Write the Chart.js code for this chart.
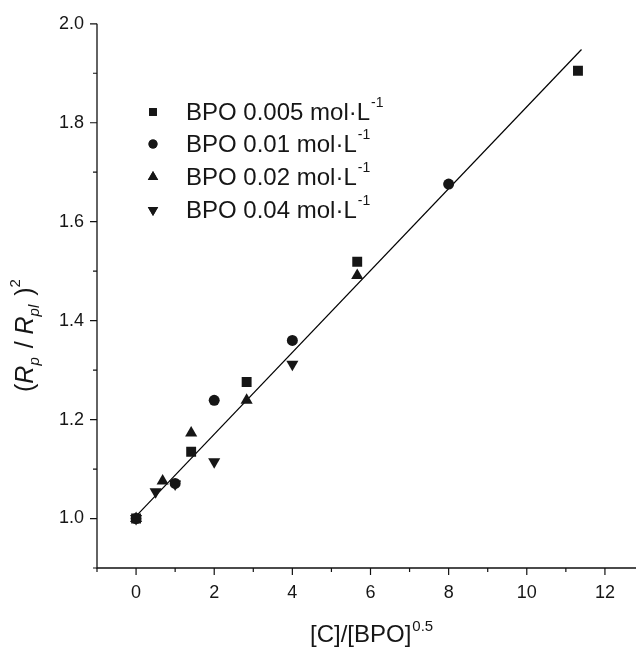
<!DOCTYPE html>
<html>
<head>
<meta charset="utf-8">
<script src="https://cdn.jsdelivr.net/npm/chart.js@4"></script>
<style>
  html, body { margin: 0; padding: 0; background: #fff; overflow: hidden; }
  #wrap { width: 660px; height: 647px; }
</style>
</head>
<body>
<div id="wrap"><canvas id="rateChart" width="660" height="647"></canvas></div>
<script>
// BPO concentrations (mol/L) used for the four series
var bpoConc = ['0.005', '0.01', '0.02', '0.04'];

// [C]/[BPO]^0.5 and (Rp/Rpl)^2 for each series
var x005 = [0, 1.41, 2.83, 5.66, 11.31];
var y005 = [1.0, 1.135, 1.276, 1.519, 1.905];

var x01 = [0, 1, 2, 4, 8];
var y01 = [1.0, 1.071, 1.239, 1.36, 1.676];

var x02 = [0, 0.68, 1.41, 2.83, 5.66];
var y02 = [1.0, 1.076, 1.173, 1.239, 1.491];

var x04 = [0, 0.5, 1, 2, 4];
var y04 = [1.0, 1.054, 1.07, 1.115, 1.312];

// linear fit through all points
var fitX = [0, 11.4];
var fitY = [1.005, 1.948];

var xTicks = [0, 2, 4, 6, 8, 10, 12];
var xMinorTicks = [-1, 1, 3, 5, 7, 9, 11];
var yTicks = [1.0, 1.2, 1.4, 1.6, 1.8, 2.0];
var yMinorTicks = [0.9, 1.1, 1.3, 1.5, 1.7, 1.9];

var INK = '#161616';
var FONT = '"Liberation Sans", Arial, sans-serif';

function pts(xs, ys) {
    return xs.map(function (x, i) { return { x: x, y: ys[i] }; });
}

var markerStyles = [
    { style: 'rect', radius: 7, rotation: 0 },
    { style: 'circle', radius: 5.5, rotation: 0 },
    { style: 'triangle', radius: 7, rotation: 0 },
    { style: 'triangle', radius: 7, rotation: 180 }
];
var seriesX = [x005, x01, x02, x04];
var seriesY = [y005, y01, y02, y04];

var datasets = bpoConc.map(function (c, i) {
    var m = markerStyles[i];
    return {
        type: 'scatter',
        label: 'BPO ' + c + ' mol·L-1',
        data: pts(seriesX[i], seriesY[i]),
        pointStyle: m.style,
        pointRadius: m.radius,
        pointRotation: m.rotation,
        backgroundColor: INK,
        borderColor: INK,
        borderWidth: 0,
        showLine: false
    };
});

datasets.push({
    type: 'line',
    label: 'fit',
    data: pts(fitX, fitY),
    borderColor: '#000',
    borderWidth: 1.2,
    pointRadius: 0,
    fill: false
});

// draws axis lines, tick marks, axis titles and the legend
var decorations = {
    id: 'decorations',
    afterDraw: function (chart) {
        var ctx = chart.ctx;
        var a = chart.chartArea;
        var xs = chart.scales.x, ys = chart.scales.y;
        ctx.save();
        ctx.strokeStyle = '#111';
        ctx.lineWidth = 1.3;
        ctx.beginPath();
        ctx.moveTo(a.left, a.top);
        ctx.lineTo(a.left, a.bottom);
        ctx.lineTo(a.right, a.bottom);
        ctx.stroke();

        ctx.lineWidth = 1.2;
        ctx.beginPath();
        xTicks.forEach(function (v) {
            var p = xs.getPixelForValue(v);
            ctx.moveTo(p, a.bottom); ctx.lineTo(p, a.bottom + 7);
        });
        xMinorTicks.forEach(function (v) {
            var p = xs.getPixelForValue(v);
            ctx.moveTo(p, a.bottom); ctx.lineTo(p, a.bottom + 4);
        });
        yTicks.forEach(function (v) {
            var p = ys.getPixelForValue(v);
            ctx.moveTo(a.left, p); ctx.lineTo(a.left - 7, p);
        });
        yMinorTicks.forEach(function (v) {
            var p = ys.getPixelForValue(v);
            ctx.moveTo(a.left, p); ctx.lineTo(a.left - 4, p);
        });
        ctx.stroke();

        ctx.fillStyle = INK;
        ctx.textBaseline = 'alphabetic';
        ctx.textAlign = 'left';

        // x axis title: [C]/[BPO]^0.5
        var tx = 310, ty = 642;
        ctx.font = '24px ' + FONT;
        ctx.fillText('[C]/[BPO]', tx, ty);
        tx += ctx.measureText('[C]/[BPO]').width + 1;
        ctx.font = '15px ' + FONT;
        ctx.fillText('0.5', tx, ty - 11);

        // y axis title: (Rp / Rpl)^2, rotated
        ctx.save();
        ctx.translate(33, 392);
        ctx.rotate(-Math.PI / 2);
        var parts = [
            { t: '(', f: '25px ', dy: 0 },
            { t: 'R', f: 'italic 25px ', dy: 0 },
            { t: 'p', f: 'italic 15px ', dy: 6 },
            { t: ' / ', f: '25px ', dy: 0 },
            { t: 'R', f: 'italic 25px ', dy: 0 },
            { t: 'pl', f: 'italic 15px ', dy: 6 },
            { t: ' )', f: '25px ', dy: 0 },
            { t: '2', f: '15px ', dy: -13 }
        ];
        var cx = 0;
        parts.forEach(function (p) {
            ctx.font = p.f + FONT;
            ctx.fillText(p.t, cx, p.dy);
            cx += ctx.measureText(p.t).width + (p.t === 'p' || p.t === 'pl' ? 2 : 0);
        });
        ctx.restore();

        // legend
        var rowY = [112, 144, 177, 210];
        var legendRadius = [5.5, 4.5, 6, 6];
        bpoConc.forEach(function (c, i) {
            var m = markerStyles[i];
            ctx.save();
            ctx.fillStyle = INK;
            ctx.beginPath();
            Chart.helpers.drawPoint(ctx, {
                pointStyle: m.style,
                rotation: m.rotation,
                radius: legendRadius[i],
                borderWidth: 0
            }, 153, rowY[i]);
            ctx.fill();
            ctx.restore();

            var s = 'BPO ' + c + ' mol·L';
            ctx.font = '24px ' + FONT;
            ctx.textBaseline = 'middle';
            ctx.fillText(s, 186, rowY[i] + 1);
            var w = ctx.measureText(s).width;
            ctx.font = '14px ' + FONT;
            ctx.fillText('-1', 186 + w + 1, rowY[i] - 9);
            ctx.textBaseline = 'alphabetic';
        });
        ctx.restore();
    }
};

var ctx = document.getElementById('rateChart').getContext('2d');
new Chart(ctx, {
    type: 'scatter',
    data: { datasets: datasets },
    options: {
        responsive: false,
        animation: false,
        devicePixelRatio: 1,
        layout: { padding: { top: 20, right: 16, left: 0, bottom: 0 } },
        plugins: {
            legend: { display: false },
            tooltip: { enabled: false }
        },
        scales: {
            x: {
                type: 'linear',
                min: -1,
                max: 13,
                grid: { display: false, drawTicks: false },
                border: { display: false },
                afterBuildTicks: function (scale) {
                    scale.ticks = xTicks.map(function (v) { return { value: v }; });
                },
                afterFit: function (scale) { scale.height = 79; },
                ticks: {
                    color: INK,
                    padding: 14,
                    maxRotation: 0,
                    autoSkip: false,
                    font: { family: FONT, size: 18 },
                    callback: function (v) { return String(v); }
                }
            },
            y: {
                type: 'linear',
                min: 0.9,
                max: 2.0,
                grid: { display: false, drawTicks: false },
                border: { display: false },
                afterBuildTicks: function (scale) {
                    scale.ticks = yTicks.map(function (v) { return { value: v }; });
                },
                afterFit: function (scale) { scale.width = 97; },
                ticks: {
                    color: INK,
                    padding: 13,
                    autoSkip: false,
                    font: { family: FONT, size: 18 },
                    callback: function (v) { return Number(v).toFixed(1); }
                }
            }
        }
    },
    plugins: [decorations]
});
</script>
</body>
</html>
